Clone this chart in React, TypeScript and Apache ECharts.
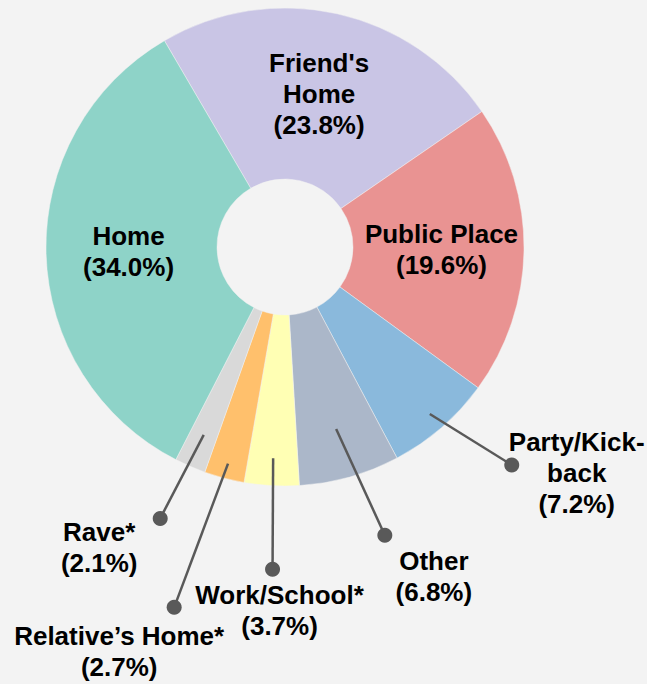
import React, { useEffect, useRef } from 'react';
import * as echarts from 'echarts';

// ---- data ----
const categories = ["Friend's Home", 'Public Place', 'Party/Kick-back', 'Other', 'Work/School*', 'Relative’s Home*', 'Rave*', 'Home'];
const labelNames = ["Friend's\nHome", 'Public Place', 'Party/Kick-\nback', 'Other', 'Work/School*', 'Relative’s Home*', 'Rave*', 'Home'];
const values = [23.8, 19.6, 7.2, 6.8, 3.7, 2.7, 2.1, 34.0];
const colors = ['#c9c5e5', '#e99392', '#8ab9dc', '#abb7c9', '#ffffb4', '#ffc06c', '#d9d9d9', '#8ed3c8'];
const insideLabels = ["Friend's Home", 'Public Place', 'Home'];

// ---- layout ----
const CX = 285;
const CY = 247;
const R_IN = 68;
const R_OUT = 239;
const START_ANGLE = 120.3;
const LINE_COLOR = '#595959';

// leader lines for outside labels: start radius, dot radius, dot angle turn (deg), text offset from dot
const leaders: Record<string, { startR: number; dotR: number; turn: number; dx: number; dy: number }> = {
  'Party/Kick-back': { startR: 221, dotR: 314.5, turn: 5.2, dx: 65, dy: 8 },
  Other: { startR: 189, dotR: 305, turn: 3.4, dx: 49, dy: 41.5 },
  'Work/School*': { startR: 211.7, dotR: 322.5, turn: 1.0, dx: 7, dy: 41.6 },
  'Relative’s Home*': { startR: 224, dotR: 377, turn: -2.35, dx: -55, dy: 44 },
  'Rave*': { startR: 204.7, dotR: 298.7, turn: -1.3, dx: -61, dy: 29 },
};

function midAngles(): number[] {
  const total = values.reduce((a, b) => a + b, 0);
  let cum = 0;
  return values.map((v) => {
    const mid = START_ANGLE - ((cum + v / 2) / total) * 360;
    cum += v;
    return mid;
  });
}

function polar(angleDeg: number, r: number): [number, number] {
  const a = (angleDeg * Math.PI) / 180;
  return [CX + r * Math.cos(a), CY - r * Math.sin(a)];
}

function leaderGeometry(i: number) {
  const mids = midAngles();
  const l = leaders[categories[i]];
  if (!l) return null;
  const start = polar(mids[i], l.startR);
  const dot = polar(mids[i] + l.turn, l.dotR);
  const text: [number, number] = [dot[0] + l.dx, dot[1] + l.dy];
  return { start, dot, text };
}

export default function App() {
  const ref = useRef<HTMLDivElement>(null);

  useEffect(() => {
    if (!ref.current) return;
    const chart = echarts.init(ref.current, undefined, { renderer: 'svg' });

    const textStyle = {
      fontFamily: '"Liberation Sans", Arial, Helvetica, sans-serif',
      fontWeight: 'bold' as const,
      fontSize: 26,
      lineHeight: 31,
      color: '#000',
    };

    const data = categories.map((name, i) => {
      const inside = insideLabels.includes(name);
      return {
        name,
        value: values[i],
        itemStyle: { color: colors[i] },
        label: {
          show: true,
          position: inside ? 'inside' : 'outside',
          formatter: () => `${labelNames[i]}\n(${values[i].toFixed(1)}%)`,
          ...textStyle,
        },
        labelLine: { show: false },
      };
    });

    const marks: any[] = [];
    categories.forEach((_, i) => {
      const g = leaderGeometry(i);
      if (g) {
        marks.push({
          type: 'line',
          z: 100,
          shape: { x1: g.start[0], y1: g.start[1], x2: g.dot[0], y2: g.dot[1] },
          style: { stroke: LINE_COLOR, lineWidth: 2.5 },
          silent: true,
        });
        marks.push({
          type: 'circle',
          z: 101,
          shape: { cx: g.dot[0], cy: g.dot[1], r: 7.5 },
          style: { fill: LINE_COLOR },
          silent: true,
        });
      }
    });

    chart.setOption({
      animation: false,
      backgroundColor: '#f3f3f3',
      graphic: marks,
      series: [
        {
          type: 'pie',
          center: [CX, CY],
          radius: [R_IN, R_OUT],
          startAngle: START_ANGLE,
          clockwise: true,
          avoidLabelOverlap: false,
          itemStyle: { borderColor: 'rgba(243,243,243,0.6)', borderWidth: 0.8 },
          emphasis: { disabled: true },
          data,
          labelLayout: (params: any) => {
            const g = leaderGeometry(params.dataIndex);
            if (!g) return {};
            return {
              x: g.text[0],
              y: g.text[1],
              align: 'center',
              verticalAlign: 'middle',
            };
          },
        },
      ],
    });

    return () => chart.dispose();
  }, []);

  return (
    <div
      ref={ref}
      style={{ position: 'absolute', left: 0, top: 0, width: 647, height: 684 }}
    />
  );
}
